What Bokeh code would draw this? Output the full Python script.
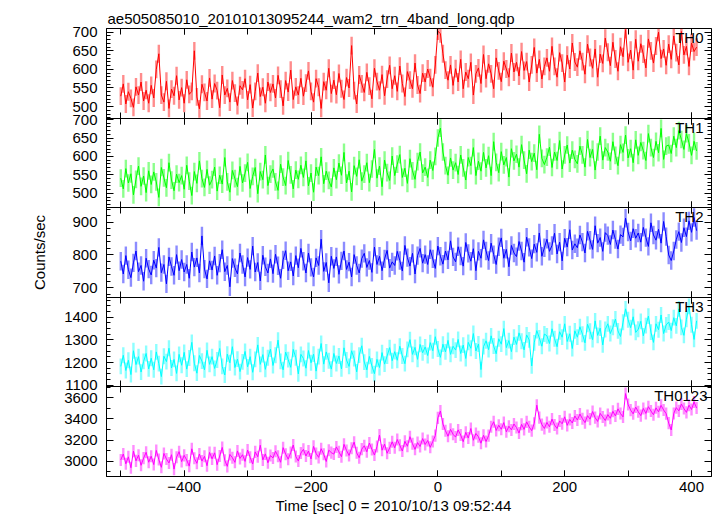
import math
import numpy as np
from bokeh.plotting import figure
from bokeh.models import (Range1d, LinearAxis, SingleIntervalTicker, FixedTicker,
                          Label, CustomJSTickFormatter, ColumnDataSource, Title)
from bokeh.embed import file_html
from bokeh.resources import INLINE

TITLE = "ae505085010_20101013095244_wam2_trn_4band_long.qdp"
X_LABEL = "Time [sec] 0 = 2010/10/13 09:52:44"
Y_LABEL = "Counts/sec"

T_START = -500   # first bin time [s]
T_STEP = 4       # bin width [s]

th0 = [
    528, 561, 507, 540, 522, 498, 553, 531, 566, 515, 544, 509,
    557, 523, 600, 642, 531, 512, 568, 495, 547, 529, 583, 518,
    551, 509, 572, 533, 541, 650, 526, 494, 560, 538, 515, 577,
    520, 562, 543, 497, 585, 531, 549, 512, 570, 536, 503, 556,
    545, 575, 518, 559, 496, 541, 590, 527, 552, 509, 566, 538,
    561, 523, 584, 547, 502, 570, 539, 598, 519, 553, 531, 576,
    528, 563, 596, 541, 512, 575, 552, 495, 567, 544, 603, 535,
    571, 532, 589, 548, 519, 578, 550, 664, 543, 507, 585, 561,
    538, 592, 555, 521, 603, 567, 544, 586, 529, 574, 611, 548,
    583, 541, 609, 562, 527, 594, 571, 548, 617, 558, 535, 590,
    566, 601, 578, 552, 612, 703, 696, 642, 598, 571, 612, 557,
    602, 566, 627, 548, 593, 575, 619, 531, 588, 604, 562, 640,
    575, 615, 588, 548, 631, 596, 567, 622, 601, 579, 644, 593,
    619, 582, 648, 597, 621, 566, 612, 659, 590, 627, 574, 608,
    631, 595, 662, 608, 579, 645, 617, 566, 638, 601, 671, 620,
    606, 650, 621, 587, 668, 632, 603, 655, 579, 641, 616, 684,
    646, 610, 673, 628, 595, 661, 634, 707, 619, 652, 598, 681,
    622, 669, 641, 604, 682, 650, 617, 663, 700, 629, 655, 611,
    668, 627, 690, 645, 612, 702, 639, 662, 608, 671, 648, 660,
]

th1 = [
    541, 512, 567, 528, 553, 496, 538, 574, 519, 547, 502, 561,
    524, 558, 531, 489, 570, 542, 515, 583, 536, 507, 552, 529,
    548, 511, 576, 533, 494, 559, 527, 588, 540, 516, 565, 522,
    537, 571, 506, 549, 525, 597, 531, 503, 562, 540, 518, 573,
    528, 555, 584, 513, 546, 570, 499, 559, 537, 604, 521, 552,
    566, 531, 508, 579, 544, 521, 589, 550, 512, 563, 538, 576,
    543, 588, 520, 555, 503, 571, 548, 599, 526, 560, 535, 517,
    569, 537, 582, 549, 611, 528, 560, 504, 575, 546, 591, 533,
    552, 583, 529, 566, 619, 541, 574, 518, 590, 556, 535, 601,
    548, 579, 605, 543, 568, 527, 594, 561, 538, 586, 612, 555,
    571, 543, 590, 562, 600, 650, 677, 612, 575, 549, 596, 563,
    583, 551, 604, 569, 536, 597, 575, 624, 548, 587, 560, 611,
    569, 602, 548, 640, 584, 556, 613, 577, 597, 544, 621, 588,
    606, 571, 632, 590, 553, 617, 586, 609, 564, 660, 595, 578,
    598, 625, 570, 612, 589, 643, 566, 604, 631, 582, 617, 592,
    580, 628, 604, 571, 646, 597, 619, 563, 612, 655, 590, 624,
    612, 587, 640, 603, 575, 632, 611, 658, 596, 621, 583, 645,
    603, 638, 616, 589, 662, 624, 597, 641, 610, 676, 592, 628,
    631, 608, 655, 624, 670, 646, 619, 662, 637, 603, 641, 615,
]

th2 = [
    781, 742, 798, 755, 731, 776, 812, 749, 768, 720, 790, 757,
    739, 784, 760, 823, 746, 771, 712, 794, 765, 738, 801, 752,
    786, 748, 771, 729, 809, 763, 791, 745, 858, 757, 727, 782,
    754, 797, 738, 775, 816, 749, 768, 703, 789, 761, 742, 806,
    771, 733, 792, 756, 827, 748, 777, 721, 799, 764, 745, 788,
    743, 802, 767, 729, 785, 813, 752, 779, 736, 798, 761, 820,
    781, 745, 806, 762, 733, 791, 768, 848, 750, 777, 715, 796,
    759, 794, 741, 782, 812, 756, 778, 733, 801, 768, 745, 789,
    805, 762, 783, 747, 824, 771, 796, 752, 788, 814, 760, 779,
    768, 811, 783, 751, 829, 792, 766, 805, 742, 798, 820, 775,
    801, 771, 816, 788, 759, 827, 796, 772, 812, 785, 843, 794,
    779, 825, 797, 766, 838, 805, 781, 819, 752, 811, 790, 846,
    812, 783, 836, 801, 771, 825, 852, 790, 817, 764, 829, 806,
    795, 841, 812, 778, 854, 823, 789, 833, 808, 867, 796, 822,
    848, 811, 829, 866, 803, 839, 782, 851, 824, 877, 815, 834,
    822, 861, 839, 806, 872, 845, 817, 889, 836, 853, 811, 868,
    859, 832, 876, 847, 818, 862, 855, 912, 870, 843, 880, 851,
    867, 839, 884, 853, 826, 898, 861, 845, 878, 836, 902, 856,
    800, 783, 812, 847, 871, 838, 883, 856, 904, 869, 914, 874,
]

th3 = [
    1183, 1232, 1165, 1210, 1147, 1252, 1191, 1226, 1158, 1205, 1240, 1172,
    1219, 1168, 1247, 1195, 1138, 1228, 1204, 1263, 1176, 1214, 1152, 1236,
    1188, 1245, 1171, 1220, 1289, 1197, 1153, 1231, 1206, 1168, 1254, 1192,
    1226, 1174, 1211, 1262, 1183, 1145, 1237, 1199, 1270, 1178, 1215, 1160,
    1203, 1249, 1181, 1226, 1157, 1214, 1278, 1192, 1235, 1170, 1221, 1259,
    1187, 1232, 1299, 1205, 1168, 1246, 1213, 1179, 1258, 1221, 1150, 1236,
    1218, 1175, 1253, 1199, 1237, 1162, 1226, 1284, 1193, 1247, 1208, 1171,
    1240, 1196, 1229, 1172, 1265, 1211, 1183, 1252, 1218, 1159, 1233, 1274,
    1202, 1168, 1227, 1185, 1151, 1214, 1178, 1244, 1193, 1229, 1266, 1208,
    1248, 1210, 1272, 1229, 1195, 1258, 1301, 1236, 1267, 1214, 1280, 1243,
    1269, 1231, 1288, 1252, 1314, 1260, 1223, 1281, 1247, 1298, 1236, 1272,
    1255, 1302, 1240, 1277, 1218, 1289, 1263, 1328, 1251, 1282, 1169, 1270,
    1296, 1257, 1318, 1273, 1239, 1305, 1281, 1350, 1266, 1297, 1248, 1312,
    1280, 1331, 1294, 1256, 1322, 1300, 1185, 1287, 1341, 1309, 1272, 1326,
    1318, 1284, 1349, 1305, 1270, 1336, 1312, 1371, 1293, 1327, 1262, 1340,
    1312, 1358, 1325, 1287, 1369, 1338, 1301, 1384, 1320, 1352, 1278, 1346,
    1371, 1328, 1356, 1392, 1340, 1315, 1378, 1437, 1389, 1354, 1402, 1333,
    1347, 1382, 1318, 1363, 1405, 1334, 1289, 1371, 1345, 1410, 1328, 1366,
    1379, 1341, 1398, 1362, 1437, 1355, 1320, 1391, 1448, 1367, 1302, 1384,
]

th0123 = [
    3012, 3068, 2975, 3041, 2938, 3095, 3003, 3057, 2961, 3029, 3084, 2990,
    3047, 2968, 3102, 3015, 2942, 3073, 3021, 2983, 3061, 2925, 3038, 3090,
    2996, 3055, 3010, 2953, 3117, 3027, 2980, 3068, 3001, 3046, 2957, 3083,
    3022, 3079, 2967, 3049, 3130, 3008, 2951, 3064, 3033, 2989, 3097, 3026,
    3061, 2998, 3105, 3037, 2973, 3088, 3042, 3151, 3012, 3069, 2985, 3053,
    3031, 3094, 3047, 2990, 3128, 3066, 3019, 3082, 3153, 3044, 3001, 3077,
    3112, 3049, 3096, 3021, 3140, 3073, 3036, 3118, 3065, 2997, 3104, 3081,
    3067, 3135, 3088, 3042, 3159, 3101, 3054, 3122, 3180, 3079, 3033, 3114,
    3146, 3089, 3172, 3111, 3058, 3139, 3247, 3104, 3161, 3075, 3126, 3183,
    3127, 3205, 3150, 3096, 3188, 3141, 3232, 3165, 3112, 3176, 3139, 3214,
    3158, 3196, 3131, 3187, 3242, 3410, 3475, 3352, 3288, 3236, 3301, 3254,
    3228, 3296, 3247, 3185, 3273, 3219, 3309, 3198, 3262, 3231, 3170, 3245,
    3186, 3242, 3325, 3373, 3291, 3340, 3302, 3365, 3278, 3331, 3296, 3352,
    3318, 3266, 3349, 3301, 3372, 3325, 3289, 3358, 3530, 3412, 3346, 3310,
    3367, 3325, 3398, 3342, 3309, 3381, 3354, 3420, 3339, 3395, 3361, 3428,
    3389, 3446, 3402, 3365, 3431, 3398, 3470, 3412, 3376, 3452, 3419, 3385,
    3441, 3406, 3472, 3428, 3495, 3451, 3419, 3640, 3536, 3483, 3448, 3512,
    3468, 3431, 3499, 3452, 3516, 3475, 3439, 3505, 3467, 3528, 3484, 3450,
    3360, 3295, 3452, 3507, 3476, 3541, 3498, 3462, 3530, 3489, 3561, 3503,
]

NAMES = ["TH0", "TH1", "TH2", "TH3", "TH0123"]
SERIES = [th0, th1, th2, th3, th0123]
ERRS = [24, 24, 28, 35, 57]                 # 1-sigma error bars [counts/sec]
Y_MIN = [469, 461, 671, 1092.5, 2855]
Y_MAX = [710, 704, 944, 1488, 3703]
Y_TICK = [50, 50, 100, 100, 200]
Y_MINOR = [5, 5, 5, 4, 2]
X_MIN, X_MAX = -522.5, 431.5
X_TICK = 200

# ---------------- styling ----------------
COLORS = ["#ff0000", "#00ff00", "#0000ff", "#00ffff", "#ff00ff"]
NAME_XOFF = [-8, -8, -8, -8, -4]
FONT = "Liberation Sans"
FS = "15px"
NP = len(NAMES)

for s in SERIES:
    assert len(s) == len(th0), len(s)

time = T_START + T_STEP * np.arange(len(th0))

p = figure(width=715, height=515,
           x_range=Range1d(X_MIN, X_MAX), y_range=Range1d(0, NP),
           x_axis_location=None, y_axis_location=None,
           toolbar_location=None, output_backend="svg",
           min_border_left=106, min_border_right=4,
           min_border_top=28, min_border_bottom=39)
p.grid.visible = False
p.outline_line_color = "black"
p.outline_line_width = 1
p.background_fill_color = "white"
p.border_fill_color = "white"

p.title.text = TITLE
p.title.align = "left"
p.title.offset = 1
p.title.text_font = FONT
p.title.text_font_size = FS
p.title.text_font_style = "normal"
p.title.text_color = "black"
p.title.standoff = 4

blank = CustomJSTickFormatter(code="return ''")

# each panel gets its own value range, stacked so that panel i fills band i
extra = {}
major_pos, minor_pos, overrides = [], [], {}
for i, name in enumerate(NAMES):
    j = NP - 1 - i
    lo, hi = Y_MIN[i], Y_MAX[i]
    span = hi - lo
    extra[name] = Range1d(lo - j * span, hi + (NP - 1 - j) * span)
    step = Y_TICK[i]
    v = math.ceil(lo / step) * step
    while v <= hi:
        pos = j + (v - lo) / span
        major_pos.append(pos)
        overrides[pos] = str(int(v))
        v += step
    mstep = step / Y_MINOR[i]
    v = math.ceil(lo / mstep) * mstep
    while v <= hi:
        minor_pos.append(j + (v - lo) / span)
        v += mstep
p.extra_y_ranges = extra

for i, name in enumerate(NAMES):
    vals = np.array(SERIES[i], dtype=float)
    src = ColumnDataSource(dict(t=time, v=vals,
                                lo=vals - ERRS[i], hi=vals + ERRS[i]))
    p.segment(x0="t", y0="lo", x1="t", y1="hi", source=src,
              y_range_name=name, line_color=COLORS[i],
              line_alpha=0.45, line_width=2.4)
    p.line("t", "v", source=src, y_range_name=name,
           line_color=COLORS[i], line_width=1)
    p.add_layout(Label(x=X_MAX, y=NP - i, x_offset=NAME_XOFF[i],
                       y_offset=-9, text=name, text_font=FONT,
                       text_font_size=FS, text_color="black",
                       text_align="right", text_baseline="alphabetic"))

yticker = FixedTicker(ticks=major_pos, minor_ticks=minor_pos)
left = LinearAxis(ticker=yticker, major_label_overrides=overrides,
                  major_tick_in=7, major_tick_out=0,
                  minor_tick_in=4, minor_tick_out=0,
                  axis_line_color="black", major_tick_line_color="black",
                  minor_tick_line_color="black",
                  major_label_standoff=9,
                  major_label_text_font=FONT, major_label_text_font_size=FS,
                  major_label_text_color="black",
                  axis_label=Y_LABEL, axis_label_standoff=13,
                  axis_label_text_font=FONT, axis_label_text_font_size=FS,
                  axis_label_text_font_style="normal",
                  axis_label_text_color="black")
p.add_layout(left, "left")
right = LinearAxis(ticker=yticker, fixed_location=X_MAX, formatter=blank,
                   major_tick_in=7, major_tick_out=0,
                   minor_tick_in=4, minor_tick_out=0,
                   axis_line_color="black", major_tick_line_color="black",
                   minor_tick_line_color="black")
p.add_layout(right, "right")

xticker = SingleIntervalTicker(interval=X_TICK, num_minor_ticks=2)
bottom = LinearAxis(ticker=xticker,
                    major_tick_in=6, minor_tick_in=6,
                    major_tick_out=0, minor_tick_out=0,
                    axis_line_color="black", major_tick_line_color="black",
                    minor_tick_line_color="black",
                    major_label_standoff=5,
                    major_label_text_font=FONT, major_label_text_font_size=FS,
                    major_label_text_color="black")
p.add_layout(bottom, "below")

# inner panel boundaries and the top edge: ticks only
for k in range(1, NP + 1):
    side = "above" if k == NP else "below"
    ax = LinearAxis(fixed_location=k, ticker=xticker, formatter=blank,
                    major_tick_in=6, minor_tick_in=6,
                    major_tick_out=6 if k < NP else 0,
                    minor_tick_out=6 if k < NP else 0,
                    axis_line_color="black", major_tick_line_color="black",
                    minor_tick_line_color="black")
    p.add_layout(ax, side)

p.add_layout(Title(text=X_LABEL, align="left", offset=169,
                   text_font=FONT, text_font_size=FS,
                   text_font_style="normal", text_color="black",
                   standoff=0), "below")

open("out.html", "w").write(file_html(p, INLINE))
